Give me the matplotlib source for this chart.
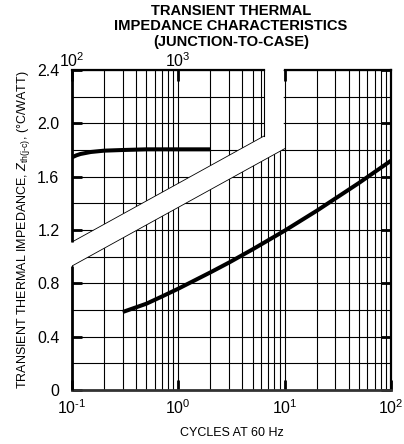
import matplotlib
matplotlib.use("Agg")
import matplotlib.pyplot as plt
import numpy as np

plt.rcParams['font.family'] = ['Liberation Sans', 'DejaVu Sans']
plt.rcParams['mathtext.fontset'] = 'custom'
plt.rcParams['mathtext.rm'] = 'Liberation Sans'
plt.rcParams['mathtext.it'] = 'Liberation Sans:italic'
plt.rcParams['mathtext.bf'] = 'Liberation Sans:bold'
plt.rcParams['mathtext.default'] = 'regular'

# ---- data ----
cycles_lower = [0.3, 0.5, 0.7, 1, 2, 3, 5, 10, 20, 50, 100]
z_lower = [0.585, 0.647, 0.701, 0.76, 0.882, 0.956, 1.055, 1.195, 1.344, 1.553, 1.72]

cycles_upper = [100, 110, 120, 150, 200, 300, 500, 1000, 2000]   # top scale
z_upper = [1.745, 1.76, 1.77, 1.785, 1.795, 1.80, 1.805, 1.805, 1.805]

y_ticks = [0, 0.4, 0.8, 1.2, 1.6, 2.0, 2.4]
y_tick_labels = ['0', '0.4', '0.8', '1.2', '1.6', '2.0', '2.4']
x_ticks = [0.1, 1, 10, 100]
x_tick_labels = [r'$10^{\text{-}1}$', r'$10^{0}$', r'$10^{1}$', r'$10^{2}$']
top_ticks = [100, 1000]
top_tick_labels = [r'$10^{2}$', r'$10^{3}$']

# break band (scale break between bottom and top scales)
band_upper_x = [0.1, 6.4]
band_upper_y = [1.11, 1.905]
band_lower_x = [0.1, 10]
band_lower_y = [0.93, 1.81]

fig = plt.figure(figsize=(4.04, 4.44), dpi=100)
ax = fig.add_axes([72/404, 1-390/444, (391-72)/404, (390-70)/444])
ax.set_xscale('log')
ax.set_xlim(0.1, 100)
ax.set_ylim(0, 2.4)
ax.set_axisbelow(True)

# grid
ax.set_yticks(np.arange(0, 2.41, 0.2), minor=True)
ax.grid(True, which='both', color='black', lw=0.8)
ax.set_yticks(y_ticks)
ax.set_yticklabels(y_tick_labels, fontsize=11.5)
ax.set_xticks(x_ticks)
ax.set_xticklabels(x_tick_labels, fontsize=11.5)
ax.tick_params(which='major', direction='in', length=7, width=2,
               left=True, right=True, bottom=True, top=False, pad=9)
ax.tick_params(which='minor', length=0)
ax.tick_params(axis='x', pad=6)

for s in ['left', 'top']:
    ax.spines[s].set_visible(False)
ax.spines['bottom'].set_linewidth(2)
ax.spines['bottom'].set_color('#333333')
ax.spines['right'].set_linewidth(1.6)

# white break band + gap
lu0, lu1 = band_upper_y
ll0, ll1 = band_lower_y
slope_l = (ll1 - ll0) / np.log10(band_lower_x[1] / band_lower_x[0])
y_l_98 = ll0 + slope_l * np.log10(9.8 / band_lower_x[0])
poly_x = [band_upper_x[0], band_upper_x[1], band_upper_x[1], 9.8, 9.8,
          band_lower_x[1], band_lower_x[0]]
poly_y = [lu0, lu1, 2.5, 2.5, y_l_98, ll1, ll0]
ax.fill(poly_x, poly_y, color='white', zorder=1, clip_on=False, lw=0)

# band edges
ax.plot(band_upper_x, band_upper_y, color='black', lw=0.6, zorder=1.5)
ax.plot(band_lower_x, band_lower_y, color='black', lw=0.6, zorder=1.5)
ax.plot([band_upper_x[1], band_upper_x[1]], [band_upper_y[1], 2.4],
        color='black', lw=0.8, zorder=1.5, clip_on=False)

# manual broken spines
ax.plot([0.1, 0.1], [0, ll0], color='black', lw=2, clip_on=False, zorder=3,
        solid_capstyle='butt')
ax.plot([0.1, 0.1], [lu0, 2.4], color='black', lw=2, clip_on=False, zorder=3,
        solid_capstyle='butt')
ax.plot([0.1, band_upper_x[1]], [2.4, 2.4], color='black', lw=1.6,
        clip_on=False, zorder=3, solid_capstyle='projecting')
ax.plot([10, 100], [2.4, 2.4], color='black', lw=1.6,
        clip_on=False, zorder=3, solid_capstyle='projecting')

# lower curve
ax.plot(cycles_lower, z_lower, color='black', lw=2.9, zorder=2,
        solid_capstyle='butt')

# top scale axis
ax2 = ax.twiny()
ax2.set_xscale('log')
ax2.set_xlim(100, 100000)
ax2.set_ylim(0, 2.4)
for s in ax2.spines.values():
    s.set_visible(False)
ax2.set_xticks([100, 1000, 10000])
ax2.set_xticklabels([top_tick_labels[0], top_tick_labels[1], ''], fontsize=11.5)
ax2.tick_params(which='major', direction='in', length=8, width=2, pad=0,
                top=True, bottom=False)
ax2.tick_params(which='minor', length=0)
ax2.plot(cycles_upper, z_upper, color='black', lw=2.9, zorder=2,
         solid_capstyle='butt')

ax.set_xlabel('CYCLES AT 60 Hz', fontsize=9, labelpad=7)
ax.set_ylabel(r'TRANSIENT THERMAL IMPEDANCE, $\mathit{Z}_{th(j\text{-}c)}$, (°C/WATT)',
              fontsize=9, labelpad=4)
fig.text(231/404, 1-4/444, 'TRANSIENT THERMAL\nIMPEDANCE CHARACTERISTICS\n(JUNCTION-TO-CASE)',
         ha='center', va='top', fontsize=10.6, fontweight='bold', linespacing=1.12)

fig.savefig('out.png', dpi=100)
